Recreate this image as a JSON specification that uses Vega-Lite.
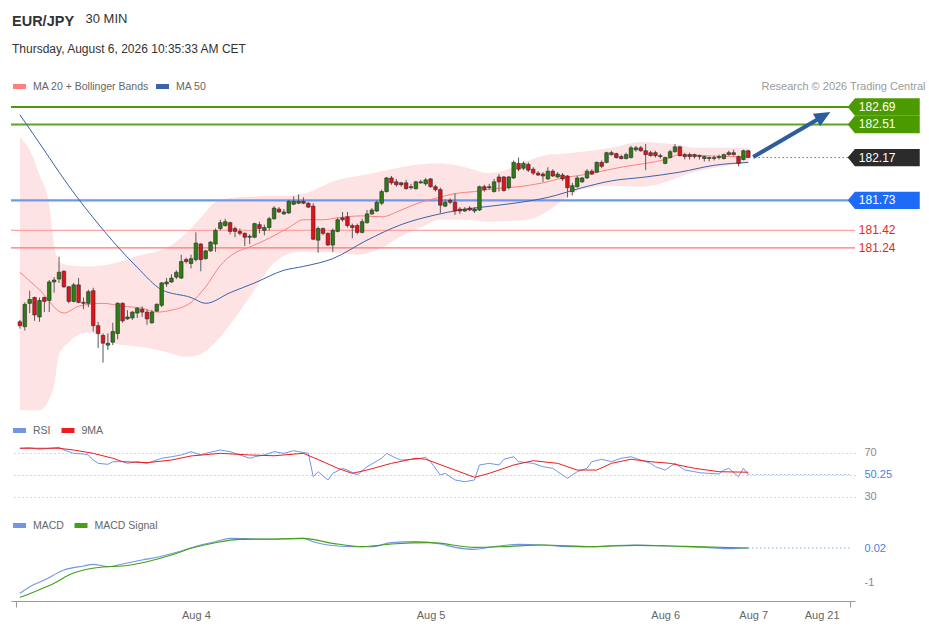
{
"$schema": "https://vega.github.io/schema/vega-lite/v6.json",
"width": 844,
"height": 541,
"autosize": {"type": "none"},
"padding": {"left": 11, "top": 60, "right": 74, "bottom": 28},
"background": "white",
"config": {
  "font": "Liberation Sans",
  "view": {"stroke": null},
  "legend": {"orient": "none", "direction": "horizontal", "symbolType": "stroke", "symbolStrokeWidth": 5, "symbolSize": 169, "labelFontSize": 10.5, "labelColor": "#666666", "labelOffset": 4.5, "columnPadding": -0.5, "padding": 0}
},
"title": {"text": "EUR/JPY", "subtitle": "Thursday, August 6, 2026 10:35:33 AM CET", "anchor": "start", "frame": "group", "offset": -44, "dx": 1, "fontSize": 14.5, "fontWeight": "bold", "color": "#333333", "subtitleFontSize": 12, "subtitleColor": "#333333", "subtitlePadding": 15},
"datasets": {
"candles": [
{"i":0,"o":180.48,"h":180.50,"l":180.41,"c":180.44},
{"i":1,"o":180.43,"h":180.68,"l":180.39,"c":180.66},
{"i":2,"o":180.67,"h":180.80,"l":180.57,"c":180.71},
{"i":3,"o":180.73,"h":180.74,"l":180.49,"c":180.55},
{"i":4,"o":180.53,"h":180.73,"l":180.48,"c":180.70},
{"i":5,"o":180.73,"h":180.74,"l":180.58,"c":180.69},
{"i":6,"o":180.70,"h":180.91,"l":180.58,"c":180.89},
{"i":7,"o":180.89,"h":180.94,"l":180.78,"c":180.91},
{"i":8,"o":180.92,"h":181.15,"l":180.88,"c":180.99},
{"i":9,"o":181.00,"h":181.01,"l":180.83,"c":180.84},
{"i":10,"o":180.84,"h":180.85,"l":180.67,"c":180.69},
{"i":11,"o":180.69,"h":180.88,"l":180.68,"c":180.86},
{"i":12,"o":180.86,"h":180.93,"l":180.67,"c":180.68},
{"i":13,"o":180.68,"h":180.73,"l":180.61,"c":180.67},
{"i":14,"o":180.67,"h":180.81,"l":180.63,"c":180.79},
{"i":15,"o":180.80,"h":180.83,"l":180.38,"c":180.44},
{"i":16,"o":180.44,"h":180.48,"l":180.21,"c":180.36},
{"i":17,"o":180.34,"h":180.36,"l":180.06,"c":180.26},
{"i":18,"o":180.24,"h":180.36,"l":180.19,"c":180.26},
{"i":19,"o":180.27,"h":180.47,"l":180.24,"c":180.38},
{"i":20,"o":180.36,"h":180.68,"l":180.30,"c":180.67},
{"i":21,"o":180.67,"h":180.68,"l":180.47,"c":180.49},
{"i":22,"o":180.51,"h":180.60,"l":180.50,"c":180.53},
{"i":23,"o":180.52,"h":180.59,"l":180.50,"c":180.58},
{"i":24,"o":180.57,"h":180.63,"l":180.52,"c":180.62},
{"i":25,"o":180.61,"h":180.64,"l":180.53,"c":180.58},
{"i":26,"o":180.58,"h":180.61,"l":180.45,"c":180.51},
{"i":27,"o":180.47,"h":180.60,"l":180.46,"c":180.58},
{"i":28,"o":180.59,"h":180.67,"l":180.58,"c":180.66},
{"i":29,"o":180.65,"h":180.89,"l":180.63,"c":180.88},
{"i":30,"o":180.87,"h":180.93,"l":180.84,"c":180.89},
{"i":31,"o":180.89,"h":180.97,"l":180.88,"c":180.93},
{"i":32,"o":180.94,"h":181.01,"l":180.92,"c":180.99},
{"i":33,"o":180.93,"h":181.17,"l":180.92,"c":181.10},
{"i":34,"o":181.12,"h":181.14,"l":181.08,"c":181.10},
{"i":35,"o":181.08,"h":181.17,"l":181.03,"c":181.13},
{"i":36,"o":181.12,"h":181.40,"l":181.10,"c":181.29},
{"i":37,"o":181.28,"h":181.29,"l":181.00,"c":181.12},
{"i":38,"o":181.13,"h":181.22,"l":181.12,"c":181.21},
{"i":39,"o":181.21,"h":181.31,"l":181.20,"c":181.30},
{"i":40,"o":181.28,"h":181.44,"l":181.20,"c":181.42},
{"i":41,"o":181.44,"h":181.53,"l":181.42,"c":181.50},
{"i":42,"o":181.47,"h":181.54,"l":181.46,"c":181.51},
{"i":43,"o":181.50,"h":181.51,"l":181.38,"c":181.41},
{"i":44,"o":181.44,"h":181.46,"l":181.35,"c":181.41},
{"i":45,"o":181.41,"h":181.44,"l":181.37,"c":181.39},
{"i":46,"o":181.39,"h":181.40,"l":181.26,"c":181.35},
{"i":47,"o":181.35,"h":181.38,"l":181.28,"c":181.36},
{"i":48,"o":181.35,"h":181.50,"l":181.34,"c":181.49},
{"i":49,"o":181.48,"h":181.51,"l":181.39,"c":181.44},
{"i":50,"o":181.42,"h":181.48,"l":181.37,"c":181.45},
{"i":51,"o":181.45,"h":181.56,"l":181.42,"c":181.54},
{"i":52,"o":181.54,"h":181.67,"l":181.53,"c":181.65},
{"i":53,"o":181.64,"h":181.66,"l":181.60,"c":181.61},
{"i":54,"o":181.59,"h":181.64,"l":181.58,"c":181.61},
{"i":55,"o":181.60,"h":181.73,"l":181.59,"c":181.72},
{"i":56,"o":181.69,"h":181.77,"l":181.68,"c":181.72},
{"i":57,"o":181.70,"h":181.79,"l":181.69,"c":181.72},
{"i":58,"o":181.72,"h":181.76,"l":181.69,"c":181.70},
{"i":59,"o":181.70,"h":181.71,"l":181.65,"c":181.66},
{"i":60,"o":181.67,"h":181.70,"l":181.32,"c":181.33},
{"i":61,"o":181.32,"h":181.46,"l":181.19,"c":181.44},
{"i":62,"o":181.44,"h":181.45,"l":181.37,"c":181.39},
{"i":63,"o":181.39,"h":181.40,"l":181.26,"c":181.27},
{"i":64,"o":181.27,"h":181.44,"l":181.20,"c":181.42},
{"i":65,"o":181.41,"h":181.55,"l":181.40,"c":181.53},
{"i":66,"o":181.55,"h":181.61,"l":181.51,"c":181.53},
{"i":67,"o":181.56,"h":181.61,"l":181.45,"c":181.47},
{"i":68,"o":181.47,"h":181.49,"l":181.34,"c":181.45},
{"i":69,"o":181.47,"h":181.49,"l":181.38,"c":181.40},
{"i":70,"o":181.40,"h":181.54,"l":181.39,"c":181.51},
{"i":71,"o":181.50,"h":181.63,"l":181.49,"c":181.59},
{"i":72,"o":181.59,"h":181.65,"l":181.58,"c":181.63},
{"i":73,"o":181.62,"h":181.73,"l":181.61,"c":181.71},
{"i":74,"o":181.70,"h":181.84,"l":181.68,"c":181.82},
{"i":75,"o":181.82,"h":181.97,"l":181.81,"c":181.96},
{"i":76,"o":181.96,"h":181.98,"l":181.89,"c":181.91},
{"i":77,"o":181.92,"h":181.95,"l":181.87,"c":181.89},
{"i":78,"o":181.91,"h":181.92,"l":181.87,"c":181.89},
{"i":79,"o":181.91,"h":181.94,"l":181.84,"c":181.85},
{"i":80,"o":181.87,"h":181.90,"l":181.84,"c":181.86},
{"i":81,"o":181.85,"h":181.93,"l":181.84,"c":181.92},
{"i":82,"o":181.91,"h":181.94,"l":181.90,"c":181.92},
{"i":83,"o":181.90,"h":181.96,"l":181.88,"c":181.94},
{"i":84,"o":181.95,"h":181.96,"l":181.86,"c":181.87},
{"i":85,"o":181.87,"h":181.89,"l":181.82,"c":181.84},
{"i":86,"o":181.84,"h":181.86,"l":181.60,"c":181.68},
{"i":87,"o":181.67,"h":181.74,"l":181.66,"c":181.71},
{"i":88,"o":181.73,"h":181.75,"l":181.69,"c":181.71},
{"i":89,"o":181.71,"h":181.80,"l":181.58,"c":181.62},
{"i":90,"o":181.64,"h":181.66,"l":181.59,"c":181.62},
{"i":91,"o":181.62,"h":181.66,"l":181.61,"c":181.64},
{"i":92,"o":181.65,"h":181.67,"l":181.62,"c":181.63},
{"i":93,"o":181.62,"h":181.66,"l":181.60,"c":181.64},
{"i":94,"o":181.63,"h":181.88,"l":181.62,"c":181.87},
{"i":95,"o":181.87,"h":181.89,"l":181.82,"c":181.84},
{"i":96,"o":181.86,"h":181.90,"l":181.84,"c":181.87},
{"i":97,"o":181.82,"h":181.95,"l":181.81,"c":181.92},
{"i":98,"o":181.97,"h":182.00,"l":181.82,"c":181.92},
{"i":99,"o":181.97,"h":181.98,"l":181.82,"c":181.83},
{"i":100,"o":181.86,"h":181.98,"l":181.84,"c":181.97},
{"i":101,"o":181.96,"h":182.14,"l":181.95,"c":182.12},
{"i":102,"o":182.11,"h":182.17,"l":182.03,"c":182.05},
{"i":103,"o":182.06,"h":182.13,"l":182.04,"c":182.11},
{"i":104,"o":182.10,"h":182.12,"l":182.02,"c":182.04},
{"i":105,"o":182.05,"h":182.07,"l":181.99,"c":182.01},
{"i":106,"o":182.01,"h":182.03,"l":181.98,"c":181.99},
{"i":107,"o":182.00,"h":182.02,"l":181.92,"c":181.98},
{"i":108,"o":181.95,"h":182.07,"l":181.94,"c":182.03},
{"i":109,"o":182.03,"h":182.05,"l":181.97,"c":181.98},
{"i":110,"o":181.97,"h":182.02,"l":181.96,"c":182.00},
{"i":111,"o":181.99,"h":182.01,"l":181.93,"c":181.95},
{"i":112,"o":181.98,"h":181.99,"l":181.76,"c":181.86},
{"i":113,"o":181.82,"h":181.91,"l":181.78,"c":181.88},
{"i":114,"o":181.87,"h":181.98,"l":181.86,"c":181.96},
{"i":115,"o":181.92,"h":181.97,"l":181.91,"c":181.96},
{"i":116,"o":181.96,"h":182.05,"l":181.95,"c":182.03},
{"i":117,"o":182.03,"h":182.05,"l":181.99,"c":182.00},
{"i":118,"o":182.02,"h":182.13,"l":182.01,"c":182.12},
{"i":119,"o":182.12,"h":182.14,"l":182.06,"c":182.08},
{"i":120,"o":182.12,"h":182.23,"l":182.11,"c":182.22},
{"i":121,"o":182.20,"h":182.24,"l":182.19,"c":182.22},
{"i":122,"o":182.21,"h":182.22,"l":182.16,"c":182.17},
{"i":123,"o":182.18,"h":182.20,"l":182.15,"c":182.16},
{"i":124,"o":182.16,"h":182.22,"l":182.15,"c":182.20},
{"i":125,"o":182.17,"h":182.29,"l":182.16,"c":182.27},
{"i":126,"o":182.25,"h":182.29,"l":182.23,"c":182.27},
{"i":127,"o":182.27,"h":182.29,"l":182.23,"c":182.24},
{"i":128,"o":182.24,"h":182.31,"l":182.04,"c":182.20},
{"i":129,"o":182.22,"h":182.24,"l":182.18,"c":182.19},
{"i":130,"o":182.22,"h":182.24,"l":182.17,"c":182.19},
{"i":131,"o":182.19,"h":182.21,"l":182.16,"c":182.18},
{"i":132,"o":182.11,"h":182.18,"l":182.10,"c":182.17},
{"i":133,"o":182.17,"h":182.25,"l":182.16,"c":182.23},
{"i":134,"o":182.23,"h":182.31,"l":182.22,"c":182.28},
{"i":135,"o":182.28,"h":182.29,"l":182.18,"c":182.19},
{"i":136,"o":182.20,"h":182.22,"l":182.15,"c":182.18},
{"i":137,"o":182.20,"h":182.22,"l":182.15,"c":182.18},
{"i":138,"o":182.20,"h":182.21,"l":182.16,"c":182.18},
{"i":139,"o":182.19,"h":182.20,"l":182.15,"c":182.18},
{"i":140,"o":182.16,"h":182.19,"l":182.13,"c":182.18},
{"i":141,"o":182.16,"h":182.18,"l":182.13,"c":182.17},
{"i":142,"o":182.16,"h":182.19,"l":182.14,"c":182.17},
{"i":143,"o":182.17,"h":182.20,"l":182.15,"c":182.18},
{"i":144,"o":182.16,"h":182.21,"l":182.15,"c":182.20},
{"i":145,"o":182.20,"h":182.24,"l":182.19,"c":182.22},
{"i":146,"o":182.22,"h":182.25,"l":182.19,"c":182.20},
{"i":147,"o":182.18,"h":182.19,"l":182.08,"c":182.11},
{"i":148,"o":182.15,"h":182.25,"l":182.14,"c":182.24},
{"i":149,"o":182.24,"h":182.25,"l":182.17,"c":182.17}
],
"bb": [
{"i":0,"upper":182.38,"lower":179.57},{"i":2,"upper":182.25,"lower":179.57},{"i":4,"upper":181.99,"lower":179.57},
{"i":6,"upper":181.68,"lower":179.68},{"i":7,"upper":181.27,"lower":179.83},{"i":8,"upper":181.10,"lower":180.14},
{"i":10,"upper":181.06,"lower":180.27},{"i":14,"upper":181.05,"lower":180.37},{"i":19,"upper":181.08,"lower":180.26},
{"i":25,"upper":181.17,"lower":180.22},{"i":30,"upper":181.24,"lower":180.17},{"i":34,"upper":181.39,"lower":180.12},
{"i":37,"upper":181.55,"lower":180.15},{"i":40,"upper":181.71,"lower":180.27},{"i":44,"upper":181.76,"lower":180.52},
{"i":48,"upper":181.77,"lower":180.81},{"i":51,"upper":181.78,"lower":181.03},{"i":55,"upper":181.78,"lower":181.18},
{"i":58,"upper":181.80,"lower":181.20},{"i":65,"upper":181.94,"lower":181.19},{"i":69,"upper":181.98,"lower":181.17},
{"i":74,"upper":182.03,"lower":181.24},{"i":78,"upper":182.07,"lower":181.36},{"i":82,"upper":182.10,"lower":181.45},
{"i":86,"upper":182.11,"lower":181.53},{"i":91,"upper":182.07,"lower":181.53},{"i":96,"upper":182.01,"lower":181.51},
{"i":101,"upper":182.07,"lower":181.52},{"i":104,"upper":182.14,"lower":181.53},{"i":108,"upper":182.20,"lower":181.62},
{"i":111,"upper":182.21,"lower":181.73},{"i":115,"upper":182.23,"lower":181.84},{"i":121,"upper":182.27,"lower":181.88},
{"i":127,"upper":182.33,"lower":181.87},{"i":131,"upper":182.32,"lower":181.90},{"i":135,"upper":182.30,"lower":181.97},
{"i":138,"upper":182.27,"lower":182.02},{"i":144,"upper":182.27,"lower":182.08},{"i":149,"upper":182.27,"lower":182.11}
],
"ma": [
{"i":0,"v":180.99,"s":"MA 20 + Bollinger Bands"},{"i":4,"v":180.81,"s":"MA 20 + Bollinger Bands"},{"i":9,"v":180.57,"s":"MA 20 + Bollinger Bands"},
{"i":12,"v":180.64,"s":"MA 20 + Bollinger Bands"},{"i":17,"v":180.67,"s":"MA 20 + Bollinger Bands"},{"i":21,"v":180.64,"s":"MA 20 + Bollinger Bands"},
{"i":25,"v":180.62,"s":"MA 20 + Bollinger Bands"},{"i":28,"v":180.58,"s":"MA 20 + Bollinger Bands"},{"i":31,"v":180.60,"s":"MA 20 + Bollinger Bands"},
{"i":35,"v":180.68,"s":"MA 20 + Bollinger Bands"},{"i":38,"v":180.84,"s":"MA 20 + Bollinger Bands"},{"i":41,"v":181.06,"s":"MA 20 + Bollinger Bands"},
{"i":44,"v":181.19,"s":"MA 20 + Bollinger Bands"},{"i":47,"v":181.25,"s":"MA 20 + Bollinger Bands"},{"i":51,"v":181.34,"s":"MA 20 + Bollinger Bands"},
{"i":55,"v":181.45,"s":"MA 20 + Bollinger Bands"},{"i":58,"v":181.53,"s":"MA 20 + Bollinger Bands"},{"i":62,"v":181.53,"s":"MA 20 + Bollinger Bands"},
{"i":65,"v":181.55,"s":"MA 20 + Bollinger Bands"},{"i":70,"v":181.57,"s":"MA 20 + Bollinger Bands"},{"i":74,"v":181.56,"s":"MA 20 + Bollinger Bands"},
{"i":78,"v":181.63,"s":"MA 20 + Bollinger Bands"},{"i":82,"v":181.71,"s":"MA 20 + Bollinger Bands"},{"i":85,"v":181.75,"s":"MA 20 + Bollinger Bands"},
{"i":89,"v":181.80,"s":"MA 20 + Bollinger Bands"},{"i":93,"v":181.82,"s":"MA 20 + Bollinger Bands"},{"i":97,"v":181.85,"s":"MA 20 + Bollinger Bands"},
{"i":102,"v":181.87,"s":"MA 20 + Bollinger Bands"},{"i":107,"v":181.91,"s":"MA 20 + Bollinger Bands"},{"i":111,"v":181.96,"s":"MA 20 + Bollinger Bands"},
{"i":115,"v":181.99,"s":"MA 20 + Bollinger Bands"},{"i":119,"v":182.03,"s":"MA 20 + Bollinger Bands"},{"i":124,"v":182.08,"s":"MA 20 + Bollinger Bands"},
{"i":128,"v":182.11,"s":"MA 20 + Bollinger Bands"},{"i":132,"v":182.15,"s":"MA 20 + Bollinger Bands"},{"i":135,"v":182.20,"s":"MA 20 + Bollinger Bands"},
{"i":140,"v":182.19,"s":"MA 20 + Bollinger Bands"},{"i":145,"v":182.18,"s":"MA 20 + Bollinger Bands"},{"i":149,"v":182.18,"s":"MA 20 + Bollinger Bands"},
{"i":0,"v":182.61,"s":"MA 50"},{"i":6,"v":182.17,"s":"MA 50"},{"i":8,"v":182.02,"s":"MA 50"},{"i":15,"v":181.55,"s":"MA 50"},
{"i":24,"v":181.04,"s":"MA 50"},{"i":29,"v":180.81,"s":"MA 50"},{"i":35,"v":180.73,"s":"MA 50"},{"i":38,"v":180.67,"s":"MA 50"},
{"i":43,"v":180.78,"s":"MA 50"},{"i":48,"v":180.88,"s":"MA 50"},{"i":54,"v":181.01,"s":"MA 50"},{"i":58,"v":181.05,"s":"MA 50"},
{"i":64,"v":181.13,"s":"MA 50"},{"i":71,"v":181.32,"s":"MA 50"},{"i":78,"v":181.48,"s":"MA 50"},{"i":85,"v":181.58,"s":"MA 50"},
{"i":90,"v":181.63,"s":"MA 50"},{"i":98,"v":181.68,"s":"MA 50"},{"i":105,"v":181.73,"s":"MA 50"},{"i":108,"v":181.76,"s":"MA 50"},
{"i":115,"v":181.86,"s":"MA 50"},{"i":121,"v":181.93,"s":"MA 50"},{"i":128,"v":181.97,"s":"MA 50"},{"i":135,"v":182.02,"s":"MA 50"},
{"i":142,"v":182.09,"s":"MA 50"},{"i":149,"v":182.12,"s":"MA 50"}
],
"levels": [
{"p":182.69,"label":"182.69","kind":"R2"},
{"p":182.51,"label":"182.51","kind":"R1"},
{"p":182.17,"label":"182.17","kind":"Last"},
{"p":181.73,"label":"181.73","kind":"Pivot"},
{"p":181.42,"label":"181.42","kind":"S1"},
{"p":181.24,"label":"181.24","kind":"S2"}
],
"arrow": [{"i":150.0,"p":182.176},{"i":164.37,"p":182.597}],
"rsi": [
{"i":0,"v":74.3,"s":"RSI"},{"i":2,"v":74.8,"s":"RSI"},{"i":4,"v":73.4,"s":"RSI"},{"i":6,"v":74.3,"s":"RSI"},{"i":8,"v":75.2,"s":"RSI"},
{"i":9,"v":72.7,"s":"RSI"},{"i":11,"v":69.7,"s":"RSI"},{"i":13,"v":69.1,"s":"RSI"},{"i":14,"v":68.2,"s":"RSI"},{"i":15,"v":63.6,"s":"RSI"},
{"i":16,"v":60.6,"s":"RSI"},{"i":18,"v":59.7,"s":"RSI"},{"i":19,"v":62.1,"s":"RSI"},{"i":21,"v":62.1,"s":"RSI"},{"i":22,"v":60.6,"s":"RSI"},
{"i":24,"v":62.1,"s":"RSI"},{"i":26,"v":60.6,"s":"RSI"},{"i":27,"v":62.1,"s":"RSI"},{"i":29,"v":65.2,"s":"RSI"},{"i":31,"v":66.6,"s":"RSI"},
{"i":33,"v":68.2,"s":"RSI"},{"i":35,"v":71.2,"s":"RSI"},{"i":37,"v":68.2,"s":"RSI"},{"i":38,"v":69.7,"s":"RSI"},{"i":41,"v":72.7,"s":"RSI"},
{"i":43,"v":71.2,"s":"RSI"},{"i":45,"v":68.2,"s":"RSI"},{"i":47,"v":65.2,"s":"RSI"},{"i":48,"v":66.6,"s":"RSI"},{"i":50,"v":68.2,"s":"RSI"},
{"i":52,"v":71.2,"s":"RSI"},{"i":54,"v":69.7,"s":"RSI"},{"i":56,"v":72.1,"s":"RSI"},{"i":57,"v":71.2,"s":"RSI"},{"i":59,"v":69.7,"s":"RSI"},
{"i":60,"v":48.5,"s":"RSI"},{"i":61,"v":53.0,"s":"RSI"},{"i":63,"v":45.5,"s":"RSI"},{"i":64,"v":51.5,"s":"RSI"},{"i":66,"v":56.1,"s":"RSI"},
{"i":67,"v":54.5,"s":"RSI"},{"i":69,"v":50.0,"s":"RSI"},{"i":71,"v":57.5,"s":"RSI"},{"i":74,"v":65.2,"s":"RSI"},{"i":75,"v":69.7,"s":"RSI"},
{"i":77,"v":65.2,"s":"RSI"},{"i":78,"v":63.6,"s":"RSI"},{"i":81,"v":64.3,"s":"RSI"},{"i":83,"v":66.1,"s":"RSI"},{"i":84,"v":62.1,"s":"RSI"},
{"i":86,"v":50.0,"s":"RSI"},{"i":87,"v":51.5,"s":"RSI"},{"i":89,"v":45.5,"s":"RSI"},{"i":91,"v":43.9,"s":"RSI"},{"i":93,"v":45.5,"s":"RSI"},
{"i":94,"v":59.1,"s":"RSI"},{"i":96,"v":60.6,"s":"RSI"},{"i":98,"v":59.1,"s":"RSI"},{"i":99,"v":64.3,"s":"RSI"},{"i":101,"v":66.6,"s":"RSI"},
{"i":102,"v":62.1,"s":"RSI"},{"i":105,"v":60.6,"s":"RSI"},{"i":107,"v":57.5,"s":"RSI"},{"i":109,"v":56.1,"s":"RSI"},{"i":110,"v":53.0,"s":"RSI"},
{"i":112,"v":47.0,"s":"RSI"},{"i":114,"v":53.0,"s":"RSI"},{"i":116,"v":56.1,"s":"RSI"},{"i":117,"v":62.1,"s":"RSI"},{"i":119,"v":64.3,"s":"RSI"},
{"i":121,"v":62.1,"s":"RSI"},{"i":123,"v":65.2,"s":"RSI"},{"i":125,"v":66.6,"s":"RSI"},{"i":127,"v":63.6,"s":"RSI"},{"i":129,"v":60.6,"s":"RSI"},
{"i":130,"v":57.5,"s":"RSI"},{"i":132,"v":54.5,"s":"RSI"},{"i":134,"v":60.6,"s":"RSI"},{"i":136,"v":54.5,"s":"RSI"},{"i":138,"v":53.0,"s":"RSI"},
{"i":139,"v":52.1,"s":"RSI"},{"i":141,"v":51.5,"s":"RSI"},{"i":143,"v":50.9,"s":"RSI"},{"i":144,"v":54.5,"s":"RSI"},{"i":145,"v":56.1,"s":"RSI"},
{"i":147,"v":48.5,"s":"RSI"},{"i":148,"v":56.1,"s":"RSI"},{"i":149,"v":50.25,"s":"RSI"},
{"i":0,"v":74.3,"s":"9MA"},{"i":8,"v":74.3,"s":"9MA"},{"i":11,"v":72.7,"s":"9MA"},{"i":15,"v":69.7,"s":"9MA"},{"i":19,"v":65.2,"s":"9MA"},
{"i":21,"v":62.1,"s":"9MA"},{"i":26,"v":61.2,"s":"9MA"},{"i":31,"v":63.6,"s":"9MA"},{"i":35,"v":67.3,"s":"9MA"},{"i":41,"v":69.7,"s":"9MA"},
{"i":47,"v":68.2,"s":"9MA"},{"i":52,"v":67.5,"s":"9MA"},{"i":58,"v":69.7,"s":"9MA"},{"i":62,"v":62.1,"s":"9MA"},{"i":65,"v":56.1,"s":"9MA"},
{"i":68,"v":51.5,"s":"9MA"},{"i":71,"v":54.5,"s":"9MA"},{"i":76,"v":60.6,"s":"9MA"},{"i":81,"v":65.2,"s":"9MA"},{"i":83,"v":64.3,"s":"9MA"},
{"i":88,"v":56.1,"s":"9MA"},{"i":93,"v":47.9,"s":"9MA"},{"i":96,"v":51.5,"s":"9MA"},{"i":101,"v":59.1,"s":"9MA"},{"i":105,"v":63.0,"s":"9MA"},
{"i":110,"v":60.6,"s":"9MA"},{"i":114,"v":54.5,"s":"9MA"},{"i":118,"v":54.5,"s":"9MA"},{"i":121,"v":60.6,"s":"9MA"},{"i":125,"v":64.3,"s":"9MA"},
{"i":129,"v":62.1,"s":"9MA"},{"i":133,"v":60.6,"s":"9MA"},{"i":138,"v":56.1,"s":"9MA"},{"i":143,"v":53.0,"s":"9MA"},{"i":149,"v":52.5,"s":"9MA"}
],
"rsiLast": [{"v": 50.25}],
"macd": [
{"i":0,"v":-1.34,"s":"MACD"},{"i":2,"v":-1.14,"s":"MACD"},{"i":5,"v":-0.94,"s":"MACD"},{"i":9,"v":-0.64,"s":"MACD"},{"i":13,"v":-0.52,"s":"MACD"},
{"i":15,"v":-0.47,"s":"MACD"},{"i":18,"v":-0.54,"s":"MACD"},{"i":21,"v":-0.46,"s":"MACD"},{"i":25,"v":-0.34,"s":"MACD"},{"i":28,"v":-0.26,"s":"MACD"},
{"i":33,"v":-0.07,"s":"MACD"},{"i":37,"v":0.11,"s":"MACD"},{"i":40,"v":0.21,"s":"MACD"},{"i":43,"v":0.31,"s":"MACD"},{"i":46,"v":0.30,"s":"MACD"},
{"i":51,"v":0.28,"s":"MACD"},{"i":58,"v":0.31,"s":"MACD"},{"i":60,"v":0.21,"s":"MACD"},{"i":63,"v":0.11,"s":"MACD"},{"i":68,"v":0.06,"s":"MACD"},
{"i":72,"v":0.06,"s":"MACD"},{"i":76,"v":0.18,"s":"MACD"},{"i":81,"v":0.21,"s":"MACD"},{"i":86,"v":0.14,"s":"MACD"},{"i":89,"v":0.04,"s":"MACD"},
{"i":93,"v":-0.02,"s":"MACD"},{"i":96,"v":0.04,"s":"MACD"},{"i":102,"v":0.13,"s":"MACD"},{"i":107,"v":0.11,"s":"MACD"},{"i":112,"v":0.06,"s":"MACD"},
{"i":117,"v":0.06,"s":"MACD"},{"i":121,"v":0.09,"s":"MACD"},{"i":126,"v":0.11,"s":"MACD"},{"i":131,"v":0.09,"s":"MACD"},{"i":136,"v":0.06,"s":"MACD"},
{"i":141,"v":0.03,"s":"MACD"},{"i":145,"v":0.00,"s":"MACD"},{"i":149,"v":0.02,"s":"MACD"},
{"i":0,"v":-1.46,"s":"MACD Signal"},{"i":3,"v":-1.29,"s":"MACD Signal"},{"i":7,"v":-1.04,"s":"MACD Signal"},{"i":10,"v":-0.79,"s":"MACD Signal"},
{"i":14,"v":-0.61,"s":"MACD Signal"},{"i":17,"v":-0.55,"s":"MACD Signal"},{"i":21,"v":-0.52,"s":"MACD Signal"},{"i":26,"v":-0.39,"s":"MACD Signal"},
{"i":31,"v":-0.19,"s":"MACD Signal"},{"i":35,"v":0.01,"s":"MACD Signal"},{"i":40,"v":0.18,"s":"MACD Signal"},{"i":45,"v":0.28,"s":"MACD Signal"},
{"i":51,"v":0.29,"s":"MACD Signal"},{"i":58,"v":0.31,"s":"MACD Signal"},{"i":64,"v":0.16,"s":"MACD Signal"},{"i":70,"v":0.06,"s":"MACD Signal"},
{"i":76,"v":0.14,"s":"MACD Signal"},{"i":84,"v":0.18,"s":"MACD Signal"},{"i":93,"v":0.04,"s":"MACD Signal"},{"i":99,"v":0.06,"s":"MACD Signal"},
{"i":107,"v":0.11,"s":"MACD Signal"},{"i":117,"v":0.06,"s":"MACD Signal"},{"i":126,"v":0.10,"s":"MACD Signal"},{"i":136,"v":0.07,"s":"MACD Signal"},
{"i":149,"v":0.02,"s":"MACD Signal"}
],
"macdLast": [{"v": 0.02}]
},
"layer": [
{
"layer": [
{"data": {"name": "candles"}, "mark": {"type": "rule", "color": "#5a5a5a", "strokeWidth": 1, "opacity": 0},
 "encoding": {
  "x": {"field": "i", "type": "quantitative", "scale": {"domain": [-0.8, 169.8], "nice": false, "zero": false},
    "axis": {"values": [-0.8, 36, 84, 132, 150, 164, 169.8], "labelExpr": "datum.value == 36 ? 'Aug 4' : datum.value == 84 ? 'Aug 5' : datum.value == 132 ? 'Aug 6' : datum.value == 150 ? 'Aug 7' : datum.value == 164 ? 'Aug 21' : ''", "title": null, "grid": false, "domain": true, "domainColor": "#999999", "ticks": true, "tickColor": "#999999", "tickSize": 6, "tickOpacity": {"condition": {"test": "datum.value < 0 || datum.value > 169", "value": 1}, "value": 0}, "labels": true, "labelFontSize": 11, "labelColor": "#666666", "labelFlush": false, "labelOverlap": false, "labelPadding": 2}},
  "y": {"field": "l", "type": "quantitative", "scale": {"domain": [177.6077, 183.1735], "nice": false, "zero": false},
    "axis": {"orient": "left", "labels": false, "ticks": false, "domain": false, "grid": false, "title": "30 MIN", "titleAngle": 0, "titleAlign": "left", "titleBaseline": "middle", "titleX": 74, "titleY": -42, "titleFontSize": 13, "titleFontWeight": "normal", "titleColor": "#333333"}},
  "y2": {"field": "h"}}},
{"data": {"name": "bb"}, "mark": {"type": "area", "color": "#fde3e3", "opacity": 1, "interpolate": "monotone"},
 "encoding": {
  "x": {"field": "i", "type": "quantitative", "scale": {"domain": [-0.8, 169.8], "nice": false, "zero": false}},
  "y": {"field": "upper", "type": "quantitative", "scale": {"domain": [177.6077, 183.1735], "nice": false, "zero": false}},
  "y2": {"field": "lower"}}},
{"data": {"name": "levels"}, "transform": [{"filter": "datum.kind == 'R2' || datum.kind == 'R1' || datum.kind == 'Pivot'"}],
 "mark": {"type": "rule", "strokeWidth": 2.2},
 "encoding": {
  "y": {"field": "p", "type": "quantitative", "scale": {"domain": [177.6077, 183.1735], "nice": false, "zero": false}},
  "stroke": {"field": "kind", "type": "nominal", "scale": {"domain": ["R2", "R1", "Pivot", "S1", "S2"], "range": ["#4b9a06", "#5aa61e", "#6f98ea", "#ffa3a3", "#ff7575"]}, "legend": null}}},
{"data": {"name": "levels"}, "transform": [{"filter": "datum.kind == 'S1' || datum.kind == 'S2'"}],
 "mark": {"type": "rule", "strokeWidth": 1.3},
 "encoding": {
  "y": {"field": "p", "type": "quantitative", "scale": {"domain": [177.6077, 183.1735], "nice": false, "zero": false}},
  "stroke": {"field": "kind", "type": "nominal", "scale": {"domain": ["R2", "R1", "Pivot", "S1", "S2"], "range": ["#4b9a06", "#5aa61e", "#6f98ea", "#ffa3a3", "#ff7575"]}, "legend": null}}},
{"data": {"name": "ma"}, "mark": {"type": "line", "strokeWidth": 1, "interpolate": "monotone"},
 "encoding": {
  "x": {"field": "i", "type": "quantitative", "scale": {"domain": [-0.8, 169.8], "nice": false, "zero": false}},
  "y": {"field": "v", "type": "quantitative", "scale": {"domain": [177.6077, 183.1735], "nice": false, "zero": false}},
  "color": {"field": "s", "type": "nominal", "scale": {"domain": ["MA 20 + Bollinger Bands", "MA 50"], "range": ["#ff8080", "#3a64a8"]}, "legend": {"title": null, "legendX": -0.5, "legendY": 17.5, "columnPadding": -4}}}},
{"data": {"name": "candles"}, "mark": {"type": "rule", "color": "#5a5a5a", "strokeWidth": 1},
 "encoding": {
  "x": {"field": "i", "type": "quantitative", "scale": {"domain": [-0.8, 169.8], "nice": false, "zero": false}},
  "y": {"field": "l", "type": "quantitative", "scale": {"domain": [177.6077, 183.1735], "nice": false, "zero": false}},
  "y2": {"field": "h"}}},
{"data": {"name": "candles"}, "mark": {"type": "bar", "width": 3.6, "stroke": "#2a2a2a", "strokeWidth": 0.6},
 "encoding": {
  "x": {"field": "i", "type": "quantitative", "scale": {"domain": [-0.8, 169.8], "nice": false, "zero": false}},
  "y": {"field": "o", "type": "quantitative", "scale": {"domain": [177.6077, 183.1735], "nice": false, "zero": false}},
  "y2": {"field": "c"},
  "color": {"condition": {"test": "datum.c >= datum.o", "value": "#2e7d14"}, "value": "#e3121a"}}},
{"data": {"name": "levels"}, "transform": [{"filter": "datum.kind == 'Last'"}],
 "mark": {"type": "rule", "color": "#333333", "strokeWidth": 1, "strokeDash": [1, 3]},
 "encoding": {
  "x": {"datum": 150.3, "type": "quantitative", "scale": {"domain": [-0.8, 169.8], "nice": false, "zero": false}},
  "x2": {"datum": 169.8},
  "y": {"field": "p", "type": "quantitative", "scale": {"domain": [177.6077, 183.1735], "nice": false, "zero": false}}}},
{"data": {"name": "arrow"}, "mark": {"type": "line", "color": "#2d5d9f", "strokeWidth": 4},
 "encoding": {
  "x": {"field": "i", "type": "quantitative", "scale": {"domain": [-0.8, 169.8], "nice": false, "zero": false}},
  "y": {"field": "p", "type": "quantitative", "scale": {"domain": [177.6077, 183.1735], "nice": false, "zero": false}}}},
{"data": {"name": "arrow"}, "transform": [{"filter": "datum.i > 160"}],
 "mark": {"type": "point", "filled": true, "shape": "M0,-1L0.9,1L-0.9,1Z", "size": 256, "angle": 60, "color": "#2d5d9f", "opacity": 1},
 "encoding": {
  "x": {"field": "i", "type": "quantitative", "scale": {"domain": [-0.8, 169.8], "nice": false, "zero": false}},
  "y": {"field": "p", "type": "quantitative", "scale": {"domain": [177.6077, 183.1735], "nice": false, "zero": false}}}},
{"data": {"name": "levels"}, "transform": [{"filter": "datum.kind != 'S1' && datum.kind != 'S2'"}],
 "mark": {"type": "point", "filled": true, "shape": "M-1,0L-0.8,-0.24L1,-0.24L1,0.24L-0.8,0.24Z", "size": 5184, "opacity": 1, "strokeWidth": 0},
 "encoding": {
  "x": {"datum": 176.7, "type": "quantitative", "scale": {"domain": [-0.8, 169.8], "nice": false, "zero": false}},
  "y": {"field": "p", "type": "quantitative", "scale": {"domain": [177.6077, 183.1735], "nice": false, "zero": false}},
  "fill": {"field": "kind", "type": "nominal", "scale": {"domain": ["R2", "R1", "Last", "Pivot"], "range": ["#4b9a00", "#4b9a00", "#2b2b2b", "#1e6cf5"]}, "legend": null}}},
{"data": {"name": "levels"},
 "mark": {"type": "text", "align": "left", "baseline": "middle", "fontSize": 12},
 "encoding": {
  "x": {"datum": 171.6, "type": "quantitative", "scale": {"domain": [-0.8, 169.8], "nice": false, "zero": false}},
  "y": {"field": "p", "type": "quantitative", "scale": {"domain": [177.6077, 183.1735], "nice": false, "zero": false}},
  "text": {"field": "label"},
  "color": {"condition": {"test": "datum.kind == 'S1' || datum.kind == 'S2'", "value": "#e3261f"}, "value": "#ffffff"}}}
]
},
{
"layer": [
{"data": {"name": "rsi"}, "mark": {"type": "line", "strokeWidth": 1},
 "encoding": {
  "x": {"field": "i", "type": "quantitative", "scale": {"domain": [-0.8, 169.8], "nice": false, "zero": false}},
  "y": {"field": "v", "type": "quantitative", "scale": {"domain": [-64.55, 427.27], "nice": false, "zero": false},
    "axis": {"orient": "right", "values": [30, 50.25, 70], "labelExpr": "datum.value == 50.25 ? '50.25' : datum.value == 70 ? '70' : '30'", "ticks": false, "domain": false, "labels": true, "grid": true, "gridDash": [1, 3], "gridColor": "#b0b0b0", "labelPadding": 9, "labelFontSize": 11, "labelColor": {"condition": {"test": "datum.value == 50.25", "value": "#4a7fe0"}, "value": "#888888"}, "title": "Research © 2026 Trading Central", "titleAngle": 0, "titleAlign": "right", "titleBaseline": "middle", "titleX": 70, "titleY": 26, "titleFontSize": 11, "titleFontWeight": "normal", "titleColor": "#9a9a9a"}},
  "color": {"field": "s", "type": "nominal", "scale": {"domain": ["RSI", "9MA"], "range": ["#6f96e8", "#ee1c1c"]}, "legend": {"title": null, "legendX": -0.5, "legendY": 361.5}}}},
{"data": {"name": "rsiLast"}, "mark": {"type": "rule", "color": "#5b87e0", "strokeWidth": 1, "strokeDash": [1, 3]},
 "encoding": {
  "x": {"datum": 149, "type": "quantitative", "scale": {"domain": [-0.8, 169.8], "nice": false, "zero": false}},
  "x2": {"datum": 169.8},
  "y": {"field": "v", "type": "quantitative", "scale": {"domain": [-64.55, 427.27], "nice": false, "zero": false}}}}
]
},
{
"layer": [
{"data": {"name": "macd"}, "mark": {"type": "line", "strokeWidth": 1.1, "interpolate": "monotone"},
 "encoding": {
  "x": {"field": "i", "type": "quantitative", "scale": {"domain": [-0.8, 169.8], "nice": false, "zero": false}},
  "y": {"field": "v", "type": "quantitative", "scale": {"domain": [-1.570, 14.661], "nice": false, "zero": false},
    "axis": {"orient": "right", "values": [-1, 0.02], "labelExpr": "datum.value < -0.5 ? '-1' : '0.02'", "ticks": false, "domain": false, "labels": true, "grid": false, "labelPadding": 9, "labelFontSize": 11, "labelColor": {"condition": {"test": "datum.value > -0.5", "value": "#4a7fe0"}, "value": "#888888"}, "title": null}},
  "color": {"field": "s", "type": "nominal", "scale": {"domain": ["MACD", "MACD Signal"], "range": ["#6f96e8", "#45a014"]}, "legend": {"title": null, "legendX": -0.5, "legendY": 456.5}}}},
{"data": {"name": "macdLast"}, "mark": {"type": "rule", "color": "#5b87e0", "strokeWidth": 1, "strokeDash": [1, 3]},
 "encoding": {
  "x": {"datum": 149, "type": "quantitative", "scale": {"domain": [-0.8, 169.8], "nice": false, "zero": false}},
  "x2": {"datum": 169.8},
  "y": {"field": "v", "type": "quantitative", "scale": {"domain": [-1.570, 14.661], "nice": false, "zero": false}}}}
]
}
],
"resolve": {"scale": {"y": "independent", "color": "independent"}}
}
